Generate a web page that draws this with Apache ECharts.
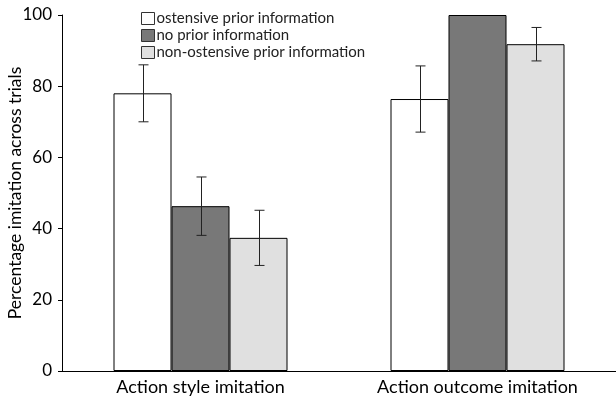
<!DOCTYPE html>
<html><head><meta charset="utf-8">
<script src="https://cdn.jsdelivr.net/npm/echarts@6/dist/echarts.min.js"></script>
<style>html,body{margin:0;padding:0;background:#fff}#c{width:616px;height:398px}</style>
</head><body><div id="c"></div>
<script>
const categories = ['Action style imitation', 'Action outcome imitation'];
const seriesNames = ['ostensive prior information', 'no prior information', 'non-ostensive prior information'];
const ostensive = [78, 76.4];
const noPrior = [46.3, 100];
const nonOstensive = [37.4, 91.8];
const ostensiveErr = [8, 9.3];
const noPriorErr = [8.2, null];
const nonOstensiveErr = [7.75, 4.7];
const yTicks = [0, 20, 40, 60, 80, 100];

const values = [ostensive, noPrior, nonOstensive];
const errs = [ostensiveErr, noPriorErr, nonOstensiveErr];
const colors = ['#ffffff', '#787878', '#e0e0e0'];
const FONT = 'Lato';
const BAR_W = 58;

const chart = echarts.init(document.getElementById('c'), null, {renderer: 'canvas'});
const barSeries = values.map((v, i) => ({
  name: seriesNames[i], type: 'bar', data: v,
  barWidth: BAR_W, barGap: '0%',
  itemStyle: {color: colors[i], borderColor: '#000', borderWidth: 1},
  emphasis: {disabled: true}, z: 2
}));
const errSeries = errs.map((e, i) => ({
  type: 'custom', name: 'err' + i, z: 5, silent: true,
  data: categories.map((c, j) => [j, values[i][j], e[j]]).filter(d => d[2] != null),
  renderItem: function (params, api) {
    const x = api.value(0), y = api.value(1), err = api.value(2);
    const off = (i - 1) * BAR_W;
    const top = api.coord([x, y + err]);
    const bot = api.coord([x, y - err]);
    const cx = Math.round(top[0] + off) + 0.5;
    const cap = 5;
    const st = {stroke: '#222', lineWidth: 1};
    return {type: 'group', children: [
      {type: 'line', shape: {x1: cx, y1: top[1], x2: cx, y2: bot[1]}, style: st},
      {type: 'line', shape: {x1: cx - cap, y1: top[1], x2: cx + cap, y2: top[1]}, style: st},
      {type: 'line', shape: {x1: cx - cap, y1: bot[1], x2: cx + cap, y2: bot[1]}, style: st}
    ]};
  }
}));

chart.setOption({
  animation: false,
  backgroundColor: '#fff',
  grid: {left: 62, right: 0, top: 15, bottom: 27, containLabel: false, outerBoundsMode: 'none'},
  legend: {
    orient: 'vertical', left: 141, top: 11, padding: 0, itemGap: 2, itemWidth: 13, itemHeight: 12,
    icon: 'rect',
    textStyle: {fontFamily: FONT, fontSize: 15, lineHeight: 14, color: '#222', padding: [0, 0, 0, -3]},
    data: seriesNames.map((n, i) => ({name: n, itemStyle: {color: colors[i], borderColor: '#333', borderWidth: 1}}))
  },
  xAxis: {
    type: 'category', data: categories,
    axisLine: {lineStyle: {color: '#000', width: 1}},
    axisTick: {show: false},
    axisLabel: {fontFamily: FONT, fontSize: 18, color: '#000', margin: 7}
  },
  yAxis: {
    type: 'value', min: yTicks[0], max: yTicks[yTicks.length - 1], interval: 20,
    name: 'Percentage imitation across trials', nameLocation: 'middle', nameGap: 38,
    nameMoveOverlap: false,
    nameTextStyle: {fontFamily: FONT, fontSize: 17.5, color: '#000'},
    axisLine: {show: true, lineStyle: {color: '#000', width: 1}},
    axisTick: {show: true, length: 4, lineStyle: {color: '#000'}},
    axisLabel: {fontFamily: FONT, fontSize: 17, color: '#000', margin: 10},
    splitLine: {show: false}
  },
  series: barSeries.concat(errSeries)
});
</script></body></html>
